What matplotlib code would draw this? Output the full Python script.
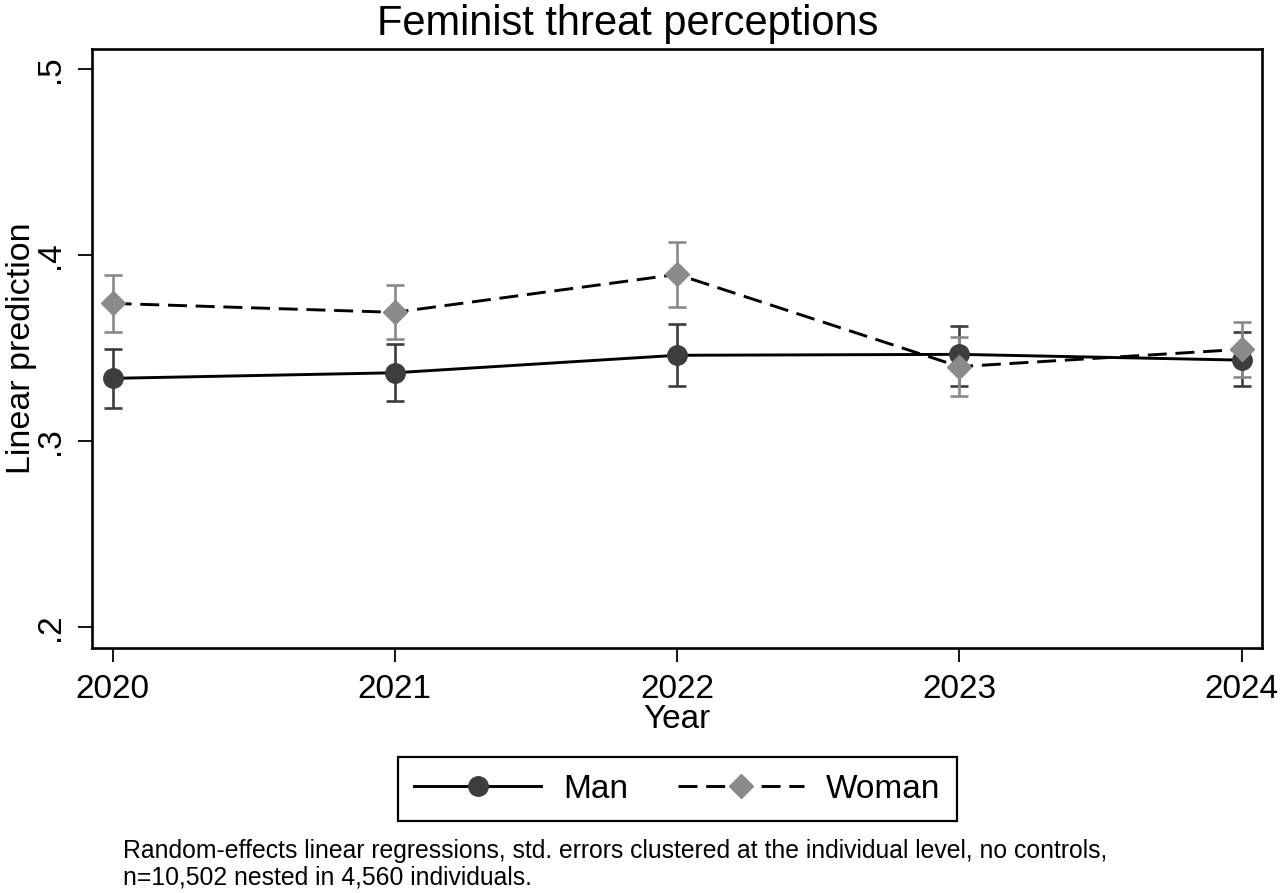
import matplotlib
matplotlib.use("Agg")
import matplotlib.pyplot as plt
from matplotlib.lines import Line2D

plt.rcParams['font.family'] = ['Liberation Sans', 'DejaVu Sans']

years = [2020, 2021, 2022, 2023, 2024]
man_mean = [0.3337, 0.3367, 0.3461, 0.3466, 0.3435]
man_lo = [0.3179, 0.3215, 0.3297, 0.3296, 0.3297]
man_hi = [0.3493, 0.3520, 0.3628, 0.3618, 0.3584]
woman_mean = [0.3740, 0.3692, 0.3896, 0.3400, 0.3493]
woman_lo = [0.3588, 0.3547, 0.3719, 0.3242, 0.3346]
woman_hi = [0.3894, 0.3837, 0.4068, 0.3557, 0.3641]
yticks = [0.2, 0.3, 0.4, 0.5]
ytick_labels = ['.2', '.3', '.4', '.5']
title = "Feminist threat perceptions"
note1 = "Random-effects linear regressions, std. errors clustered at the individual level, no controls,"
note2 = "n=10,502 nested in 4,560 individuals."

man_color = '#3d3d3d'
woman_color = '#8a8a8a'
LW = 2.1
DASH = (6.5, 3.0)

fig = plt.figure(figsize=(12.8, 8.93), dpi=100)
ax = fig.add_axes([92/1280, 1-648/893, (1262-92)/1280, (648-49)/893])

def err(mean, lo, hi):
    return [[m - l for m, l in zip(mean, lo)], [h - m for m, h in zip(mean, hi)]]

ax.errorbar(years, man_mean, yerr=err(man_mean, man_lo, man_hi), fmt='none',
            ecolor=man_color, elinewidth=1.9, capsize=6.5, capthick=1.9, zorder=2)
ax.errorbar(years, woman_mean, yerr=err(woman_mean, woman_lo, woman_hi), fmt='none',
            ecolor=woman_color, elinewidth=1.9, capsize=6.5, capthick=1.9, zorder=2)
man_line, = ax.plot(years, man_mean, color='black', lw=LW, marker='o', markersize=14,
                    markerfacecolor=man_color, markeredgecolor=man_color, zorder=3)
woman_line, = ax.plot(years, woman_mean, color='black', lw=LW, dashes=DASH, marker='D',
                      markersize=12.5, markerfacecolor=woman_color,
                      markeredgecolor=woman_color, zorder=4)

ax.set_xlim(2019.927, 2024.072)
ax.set_ylim(0.1887, 0.5108)
ax.set_xticks(years)
ax.set_xticklabels([str(y) for y in years], fontsize=24)
ax.set_yticks(yticks)
ax.set_yticklabels(ytick_labels, fontsize=24, rotation=90, va='center')
ax.tick_params(axis='both', length=10, width=1.3, pad=9, color='black')
for s in ax.spines.values():
    s.set_linewidth(1.9)
ax.set_xlabel("Year", fontsize=24, labelpad=-1)
ax.set_ylabel("Linear prediction", fontsize=24.5)
ax.yaxis.set_label_coords(-0.047, 0.5)

fig.text(628/1280, 1-35/893, title, fontsize=30, ha='center', va='baseline')

h_man = Line2D([], [], color='black', lw=LW, marker='o', markersize=14,
               markerfacecolor=man_color, markeredgecolor=man_color)
h_woman = Line2D([], [], color='black', lw=LW, dashes=DASH, marker='D', markersize=12.5,
                 markerfacecolor=woman_color, markeredgecolor=woman_color)
leg = fig.legend([h_man, h_woman], ['Man', 'Woman'], loc='center',
                 bbox_to_anchor=(677.5/1280, 1-789/893), ncol=2, fontsize=24,
                 frameon=True, fancybox=False, edgecolor='black', framealpha=1,
                 handlelength=3.8, handletextpad=0.65, columnspacing=1.5,
                 borderpad=0.5, numpoints=1)
leg.get_frame().set_linewidth(1.6)

fig.text(123/1280, 1-858/893, note1, fontsize=17.8, ha='left', va='baseline')
fig.text(123/1280, 1-885/893, note2, fontsize=17.8, ha='left', va='baseline')

fig.savefig('out.png', dpi=100, facecolor='white')
